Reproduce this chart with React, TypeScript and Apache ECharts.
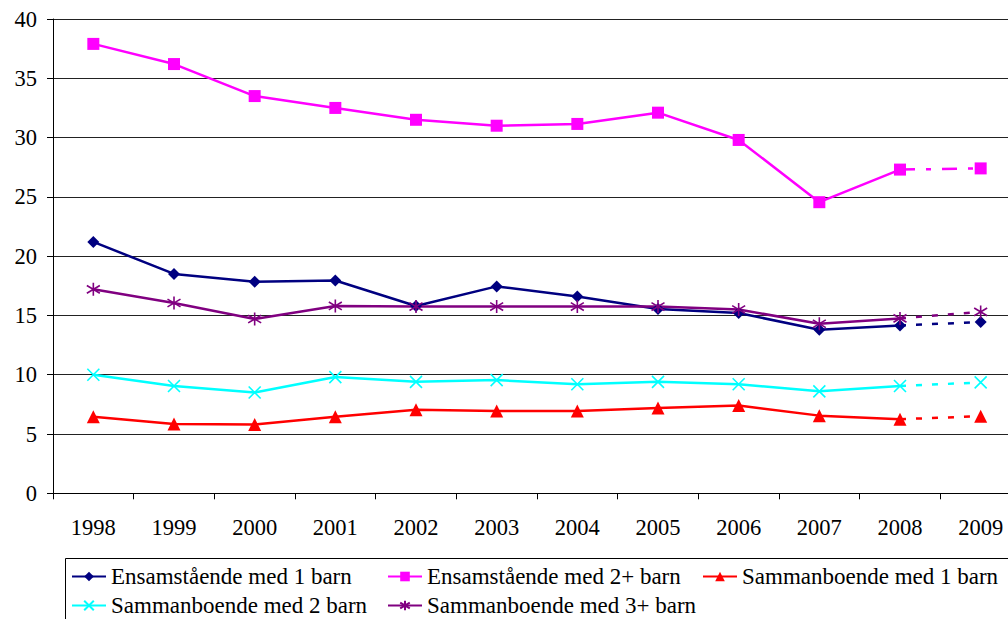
import React, { useEffect, useRef } from "react";
import * as echarts from "echarts";

const years = ["1998", "1999", "2000", "2001", "2002", "2003", "2004", "2005", "2006", "2007", "2008", "2009"];
const ensam1 = [21.2, 18.5, 17.85, 17.95, 15.8, 17.45, 16.6, 15.55, 15.2, 13.8, 14.15, 14.45];
const ensam2 = [37.9, 36.2, 33.5, 32.5, 31.5, 31.0, 31.15, 32.1, 29.8, 24.55, 27.3, 27.4];
const samman1 = [6.45, 5.85, 5.8, 6.45, 7.05, 6.95, 6.95, 7.2, 7.4, 6.55, 6.25, 6.5];
const samman2 = [10.0, 9.05, 8.5, 9.8, 9.4, 9.55, 9.2, 9.4, 9.2, 8.6, 9.05, 9.35];
const samman3 = [17.2, 16.05, 14.7, 15.8, 15.75, 15.75, 15.75, 15.75, 15.5, 14.3, 14.75, 15.3];

const names = [
  "Ensamstående med 1 barn",
  "Ensamstående med 2+ barn",
  "Sammanboende med 1 barn",
  "Sammanboende med 2 barn",
  "Sammanboende med 3+ barn",
];

const FONT = "Liberation Serif";

export default function App() {
  const ref = useRef<HTMLDivElement>(null);
  useEffect(() => {
    if (!ref.current) return;
    const chart = echarts.init(ref.current, undefined, { renderer: "svg" });
    const xSym = "path://M0,0L10,10M10,0L0,10";
    const starSym = "path://M5,0L5,10M0,2L10,8M10,2L0,8";
    const specs = [
      { name: names[0], data: ensam1, color: "#000080", symbol: "diamond", size: 12, dash: [6, 10], stroke: false },
      { name: names[1], data: ensam2, color: "#FF00FF", symbol: "rect", size: 12, dash: [15, 11, 5, 11], stroke: false },
      { name: names[2], data: samman1, color: "#FF0000", symbol: "triangle", size: 13, dash: [6, 10], stroke: false },
      { name: names[3], data: samman2, color: "#00FFFF", symbol: xSym, size: 12, dash: [6, 10], stroke: true },
      { name: names[4], data: samman3, color: "#800080", symbol: starSym, size: 13, dash: [6, 10], stroke: true },
    ];
    const series: any[] = [];
    specs.forEach((s) => {
      const last = s.data.length - 1;
      const solid = s.data.map((v, i) => (i < last ? v : null));
      const dashed = s.data.map((v, i) =>
        i === last ? v : i === last - 1 ? { value: v, symbol: "none" } : null
      );
      const itemStyle = s.stroke
        ? { color: s.color, borderColor: s.color, borderWidth: 1.6 }
        : { color: s.color };
      series.push({
        name: s.name,
        type: "line",
        data: solid,
        symbol: s.symbol,
        symbolSize: s.size,
        lineStyle: { color: s.color, width: 2.5 },
        itemStyle,
        z: 2,
      });
      series.push({
        name: s.name + " (prognos)",
        type: "line",
        data: dashed,
        symbol: s.symbol,
        symbolSize: s.size,
        lineStyle: { color: s.color, width: 2.5, type: s.dash },
        itemStyle,
        z: 2,
      });
    });
    const legendPos = [
      [71, 565],
      [387, 565],
      [702, 565],
      [71, 594],
      [387, 594],
    ];
    const legends = names.map((n, i) => ({
      data: [n],
      left: legendPos[i][0],
      top: legendPos[i][1],
      padding: 0,
      itemWidth: 34,
      itemHeight: 12,
      itemGap: 0,
      textStyle: { fontFamily: FONT, fontSize: 23, color: "#000" },
      selectedMode: false,
    }));
    chart.setOption({
      animation: false,
      backgroundColor: "#fff",
      textStyle: { fontFamily: FONT },
      grid: { left: 53, top: 19, width: 968, height: 474.3 },
      xAxis: {
        type: "category",
        data: years,
        boundaryGap: true,
        axisLine: { lineStyle: { color: "#000", width: 1 } },
        axisTick: { show: true, length: 6, lineStyle: { color: "#000" } },
        axisLabel: { interval: 0, margin: 23, fontFamily: FONT, fontSize: 22.5, color: "#000" },
      },
      yAxis: {
        type: "value",
        min: 0,
        max: 40,
        interval: 5,
        axisLine: { show: true, lineStyle: { color: "#000", width: 1 } },
        axisTick: { show: true, length: 6, lineStyle: { color: "#000" } },
        axisLabel: { margin: 16, fontFamily: FONT, fontSize: 22.5, color: "#000" },
        splitLine: { show: true, lineStyle: { color: "#222", width: 1 } },
      },
      legend: legends,
      graphic: [
        {
          type: "rect",
          shape: { x: 65.5, y: 558.5, width: 1000, height: 80 },
          style: { fill: "none", stroke: "#000", lineWidth: 1 },
          z: 0,
        },
      ],
      series,
    });
    return () => chart.dispose();
  }, []);
  return (
    <div style={{ position: "absolute", left: 0, top: 0, width: 1008, height: 619, overflow: "hidden" }}>
      <div ref={ref} style={{ width: 1040, height: 619 }} />
    </div>
  );
}
